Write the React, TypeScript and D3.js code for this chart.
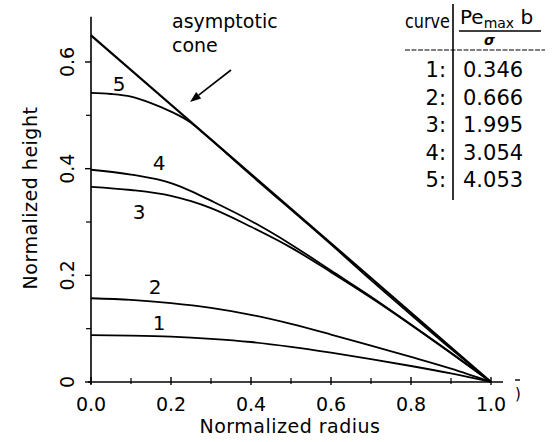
import React from "react";
import * as d3 from "d3";

const coneX = [0, 1];
const coneY = [0.65, 0];

const curve1X = [0, 0.1, 0.2, 0.3, 0.4, 0.5, 0.6, 0.7, 0.8, 0.9, 1];
const curve1Y = [0.088, 0.087, 0.085, 0.081, 0.075, 0.066, 0.055, 0.043, 0.03, 0.016, 0];
const curve2X = [0, 0.1, 0.2, 0.3, 0.4, 0.5, 0.6, 0.7, 0.8, 0.9, 1];
const curve2Y = [0.157, 0.154, 0.148, 0.139, 0.126, 0.109, 0.089, 0.068, 0.047, 0.025, 0];
const curve3X = [0, 0.1, 0.2, 0.25, 0.3, 0.4, 0.5, 0.6, 0.7, 0.8, 0.9, 1];
const curve3Y = [0.366, 0.36, 0.349, 0.339, 0.326, 0.291, 0.252, 0.206, 0.158, 0.107, 0.054, 0];
const curve4X = [0, 0.1, 0.2, 0.25, 0.3, 0.4, 0.5, 0.6, 0.7, 0.8, 0.9, 1];
const curve4Y = [0.398, 0.389, 0.373, 0.358, 0.34, 0.302, 0.258, 0.209, 0.16, 0.108, 0.055, 0];
const curve5X = [0, 0.05, 0.1, 0.15, 0.2, 0.25, 0.28, 0.4, 0.6, 0.7, 0.8, 0.9, 1];
const curve5Y = [0.542, 0.54, 0.535, 0.523, 0.507, 0.486, 0.467, 0.388, 0.258, 0.191, 0.126, 0.062, 0];

const curveLabels = ["1", "2", "3", "4", "5"];
const labelX = [0.17, 0.16, 0.12, 0.17, 0.07];
const labelY = [0.111, 0.178, 0.319, 0.411, 0.559];

const xTicks = [0, 0.2, 0.4, 0.6, 0.8, 1.0];
const xTickLabels = ["0.0", "0.2", "0.4", "0.6", "0.8", "1.0"];
const xMinor = [0.1, 0.3, 0.5, 0.7, 0.9];
const yTicks = [0, 0.2, 0.4, 0.6];
const yTickLabels = ["0", "0.2", "0.4", "0.6"];
const yMinor = [0.1, 0.3, 0.5];

const tableCurves = ["1:", "2:", "3:", "4:", "5:"];
const tableValues = ["0.346", "0.666", "1.995", "3.054", "4.053"];

const FONT = "'DejaVu Sans', sans-serif";

export default function App() {
  const x = d3.scaleLinear().domain([0, 1]).range([91, 491]);
  const y = d3.scaleLinear().domain([0, 0.6]).range([382, 62]);
  const line = d3
    .line<[number, number]>()
    .x((d) => x(d[0]))
    .y((d) => y(d[1]))
    .curve(d3.curveMonotoneX);
  const zip = (a: number[], b: number[]) => a.map((v, i) => [v, b[i]] as [number, number]);
  const curves = [
    zip(curve1X, curve1Y),
    zip(curve2X, curve2Y),
    zip(curve3X, curve3Y),
    zip(curve4X, curve4Y),
    zip(curve5X, curve5Y),
  ];
  const cone = zip(coneX, coneY);

  const y0 = y(0);
  const x0 = x(0);

  // arrow
  const ax1 = x(0.35), ay1 = y(0.585), ax2 = x(0.2475), ay2 = y(0.525);
  const ang = Math.atan2(ay2 - ay1, ax2 - ax1);
  const ah = 11, aw = 4;
  const bx = ax2 - ah * Math.cos(ang), by = ay2 - ah * Math.sin(ang);
  const arrowHead = `M${ax2},${ay2} L${bx + aw * Math.sin(ang)},${by - aw * Math.cos(ang)} L${bx - aw * Math.sin(ang)},${by + aw * Math.cos(ang)} Z`;

  const rowY0 = 77;
  const rowStep = 27.5;

  return (
    <svg
      width={560}
      height={442}
      style={{ position: "absolute", left: 0, top: 0, background: "#fff" }}
      fontFamily={FONT}
    >
      <rect width={560} height={442} fill="#fff" />
      {/* axes */}
      <line x1={x0} y1={y(0.685)} x2={x0} y2={y0 + 2} stroke="#000" strokeWidth={1.6} />
      <line x1={x0 - 3} y1={y0} x2={x(1.03)} y2={y0} stroke="#000" strokeWidth={1.6} />
      {xTicks.map((t, i) => (
        <g key={"xt" + i}>
          <line x1={x(t)} x2={x(t)} y1={y0 - 5} y2={y0 + 3} stroke="#000" strokeWidth={1.4} />
          <text x={x(t)} y={y0 + 29} fontSize={19} textAnchor="middle">
            {xTickLabels[i]}
          </text>
        </g>
      ))}
      {xMinor.map((t, i) => (
        <line key={"xm" + i} x1={x(t)} x2={x(t)} y1={y0 - 4} y2={y0 + 2} stroke="#000" strokeWidth={1.2} />
      ))}
      {yTicks.map((t, i) => (
        <g key={"yt" + i}>
          <line x1={x0 - 6} x2={x0} y1={y(t)} y2={y(t)} stroke="#000" strokeWidth={1.4} />
          <text
            transform={`translate(${x0 - 17},${y(t)}) rotate(-90)`}
            fontSize={19}
            textAnchor="middle"
          >
            {yTickLabels[i]}
          </text>
        </g>
      ))}
      {yMinor.map((t, i) => (
        <line key={"ym" + i} x1={x0 - 5} x2={x0} y1={y(t)} y2={y(t)} stroke="#000" strokeWidth={1.2} />
      ))}
      <text x={290} y={433} fontSize={19} textAnchor="middle" letterSpacing={0.5}>
        Normalized  radius
      </text>
      <text transform="translate(37,198) rotate(-90)" fontSize={19} textAnchor="middle" letterSpacing={0.5}>
        Normalized  height
      </text>

      {/* cone and curves */}
      <path d={line(cone) || ""} fill="none" stroke="#000" strokeWidth={2.2} />
      {curves.map((c, i) => (
        <path key={"c" + i} d={line(c) || ""} fill="none" stroke="#000" strokeWidth={1.8} />
      ))}
      {curveLabels.map((l, i) => (
        <text key={"l" + i} x={x(labelX[i])} y={y(labelY[i])} fontSize={20} textAnchor="middle" dominantBaseline="central">
          {l}
        </text>
      ))}

      {/* annotation */}
      <text x={172} y={28} fontSize={19}>asymptotic</text>
      <text x={172} y={52} fontSize={19}>cone</text>
      <line x1={ax1} y1={ay1} x2={bx} y2={by} stroke="#000" strokeWidth={1.6} />
      <path d={arrowHead} fill="#000" />

      {/* table */}
      <text x={405} y={28} fontSize={19} textLength={45} lengthAdjust="spacingAndGlyphs">curve</text>
      <line x1={453} y1={4} x2={453} y2={200} stroke="#000" strokeWidth={1.6} />
      <line x1={405} y1={50} x2={545} y2={50} stroke="#000" strokeWidth={1.2} strokeDasharray="5,1.5" />
      <text x={460} y={24} fontSize={20}>
        Pe
        <tspan fontSize={14} dy={4}>max</tspan>
        <tspan fontSize={20} dy={-4}> b</tspan>
      </text>
      <line x1={459} y1={31} x2={541} y2={31} stroke="#000" strokeWidth={1.6} />
      <text x={484} y={45} fontSize={14} fontStyle="italic" fontWeight="bold">σ</text>
      {tableCurves.map((c, i) => (
        <text key={"tc" + i} x={446} y={rowY0 + i * rowStep} fontSize={21} textAnchor="end">
          {c}
        </text>
      ))}
      {tableValues.map((v, i) => (
        <text key={"tv" + i} x={463} y={rowY0 + i * rowStep} fontSize={21}>
          {v}
        </text>
      ))}

      {/* stray marks at right edge */}
      <line x1={515} y1={380} x2={520} y2={380} stroke="#000" strokeWidth={1.4} />
      <text x={515} y={399} fontSize={15}>)</text>
    </svg>
  );
}
